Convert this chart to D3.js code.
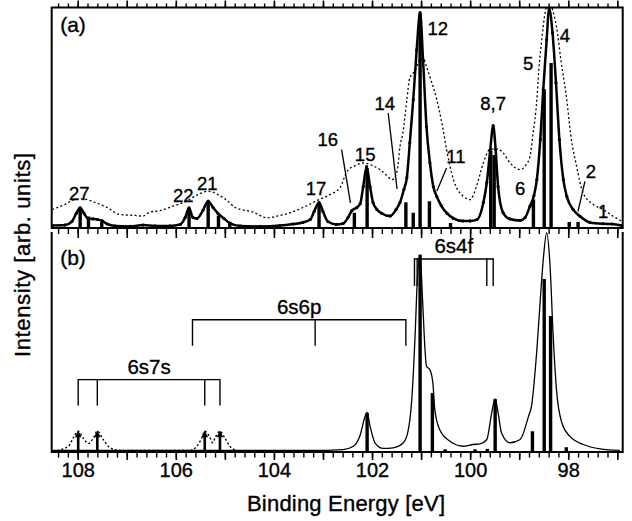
<!DOCTYPE html>
<html><head><meta charset="utf-8">
<script src="https://cdn.jsdelivr.net/npm/d3@7"></script>
<style>
body{margin:0;background:#fff}
svg{display:block}
text{font-family:"Liberation Sans",Arial,Helvetica,sans-serif;fill:#000;stroke:#000;stroke-width:0.35px}
</style>
</head><body>
<svg id="c" width="632" height="521"></svg>
<script>
// ---------------- DATA ----------------
// Panel (a): experimental spectrum (thick line with points), [binding energy eV, intensity]
const aExpE = [108.52,108.26,108.12,108.03,107.95,107.87,107.79,107.69,107.59,107.50,107.40,107.24,106.93,106.67,106.42,106.12,105.91,105.81,105.73,105.65,105.57,105.45,105.34,105.24,105.14,105.02,104.90,104.69,104.28,103.88,103.61,103.41,103.26,103.18,103.08,103.00,102.90,102.73,102.59,102.49,102.41,102.31,102.24,102.18,102.11,102.04,101.98,101.90,101.80,101.63,101.51,101.43,101.35,101.29,101.23,101.16,101.09,101.02,100.96,100.89,100.82,100.75,100.68,100.59,100.47,100.35,100.15,100.00,99.86,99.73,99.66,99.59,99.53,99.48,99.43,99.33,99.19,98.98,98.88,98.78,98.70,98.64,98.57,98.51,98.44,98.39,98.32,98.25,98.18,98.10,98.03,97.90,97.76,97.56,97.29,97.11,96.91];
const aExpI = [0.009,0.011,0.027,0.064,0.090,0.064,0.041,0.039,0.036,0.030,0.016,0.007,0.005,0.011,0.007,0.007,0.014,0.045,0.089,0.045,0.041,0.077,0.120,0.091,0.064,0.041,0.020,0.007,0.005,0.009,0.016,0.023,0.036,0.073,0.114,0.073,0.027,0.014,0.018,0.045,0.077,0.091,0.109,0.186,0.277,0.186,0.114,0.082,0.064,0.052,0.082,0.114,0.173,0.227,0.386,0.582,0.809,0.979,0.764,0.459,0.295,0.186,0.141,0.100,0.064,0.043,0.030,0.030,0.036,0.114,0.205,0.355,0.464,0.355,0.186,0.068,0.039,0.032,0.045,0.097,0.145,0.218,0.400,0.627,0.855,0.998,0.886,0.659,0.400,0.218,0.142,0.082,0.051,0.023,0.017,0.016,0.009];

// Panel (a): lower-resolution spectrum (dotted)
const aLowE = [108.52,108.26,108.06,107.89,107.65,107.40,107.14,106.83,106.67,106.53,106.32,106.06,105.78,105.55,105.34,105.14,104.94,104.79,104.42,104.14,103.88,103.67,103.37,103.12,102.86,102.65,102.51,102.34,102.18,101.99,101.84,101.72,101.59,101.49,101.43,101.37,101.29,101.23,101.16,101.08,100.99,100.89,100.80,100.68,100.57,100.48,100.34,100.14,100.00,99.87,99.73,99.60,99.48,99.33,99.19,98.98,98.86,98.78,98.72,98.64,98.60,98.54,98.48,98.41,98.35,98.29,98.24,98.15,98.03,97.95,97.83,97.70,97.49,97.29,97.11,96.91];
const aLowI = [0.082,0.105,0.127,0.130,0.114,0.091,0.059,0.055,0.052,0.070,0.077,0.097,0.120,0.150,0.165,0.150,0.120,0.091,0.070,0.044,0.055,0.067,0.095,0.123,0.150,0.182,0.256,0.282,0.294,0.282,0.264,0.241,0.218,0.255,0.370,0.432,0.582,0.682,0.703,0.736,0.786,0.733,0.673,0.582,0.468,0.355,0.218,0.142,0.127,0.188,0.295,0.355,0.359,0.341,0.295,0.264,0.286,0.324,0.423,0.582,0.718,0.855,0.968,1.020,1.010,0.968,0.915,0.764,0.582,0.423,0.279,0.159,0.105,0.082,0.055,0.029];

// Panel (a): calculated line strengths (sticks)
const aStickE = [107.95,107.78,107.51,105.73,105.34,105.13,104.90,103.08,102.36,102.10,101.31,101.16,101.02,100.83,100.40,99.58,99.51,98.71,98.49,98.35,97.98,97.80];
const aStickI = [0.090,0.050,0.025,0.090,0.120,0.055,0.025,0.110,0.067,0.270,0.115,0.067,0.975,0.120,0.020,0.350,0.330,0.127,0.630,0.750,0.025,0.025];

// Panel (b): calculated spectrum (thin line)
const bCalcE = [108.52,106.53,104.49,103.27,102.59,102.38,102.25,102.14,102.10,102.04,101.94,101.77,101.57,101.36,101.26,101.19,101.12,101.08,101.02,100.97,100.92,100.89,100.82,100.76,100.72,100.62,100.41,100.14,99.94,99.80,99.66,99.56,99.49,99.43,99.36,99.19,98.98,98.81,98.75,98.64,98.57,98.51,98.44,98.37,98.31,98.24,98.13,97.97,97.69,97.35,96.95];
const bCalcI = [0.005,0.005,0.005,0.005,0.009,0.024,0.070,0.161,0.179,0.116,0.040,0.014,0.017,0.040,0.100,0.237,0.542,0.770,0.900,0.694,0.466,0.390,0.374,0.314,0.192,0.100,0.047,0.024,0.032,0.035,0.055,0.177,0.241,0.177,0.085,0.040,0.055,0.161,0.207,0.466,0.694,0.877,1.000,0.846,0.542,0.283,0.131,0.070,0.032,0.012,0.005];

// Panel (b): 6s7s lines (dotted profile)
const bDotE = [108.50,108.19,108.09,107.99,107.89,107.78,107.68,107.60,107.48,107.34,107.14,105.71,105.57,105.47,105.41,105.30,105.25,105.20,105.10,105.00,104.90,104.76];
const bDotI = [0.001,0.024,0.062,0.093,0.062,0.037,0.062,0.093,0.055,0.017,0.005,0.005,0.024,0.062,0.093,0.062,0.040,0.062,0.093,0.062,0.024,0.005];

// Panel (b): sticks
const bStickE = [102.10,101.02,100.77,100.51,99.90,99.65,99.49,98.73,98.49,98.36,98.04];
const bStickI = [0.177,0.900,0.268,0.010,0.010,0.012,0.240,0.093,0.790,0.620,0.020];

// Panel (b): 6s7s arrows
const bArrowE = [107.99,107.60,105.41,105.10];
const bArrowI = [0.093,0.093,0.093,0.093];

// Configuration brackets (panel b)
const bracketNames = ["6s7s","6s6p","6s4f"];
const bracketTicks = [[107.99,107.60,105.41,105.10],[105.66,103.16,101.31],[101.135,101.08,99.66,99.53]];
const bracketLevel = [0.329,0.603,0.881];
const bracketDrop  = [0.119,0.119,0.123];

// Peak labels (panel a)
const peakLabels = ["27","22","21","17","16","15","14","12","11","8,7","6","5","4","2","1"];
const peakLabelE = [107.97,105.85,105.36,103.14,102.90,102.14,101.74,100.66,100.29,99.53,98.98,98.82,98.07,97.54,97.29];
const peakLabelI = [0.127,0.114,0.173,0.150,0.370,0.301,0.536,0.877,0.295,0.536,0.150,0.718,0.847,0.227,0.045];
// Leader lines for labels 16, 14, 11, 2
const leaderFrom = [[102.62,0.355],[101.67,0.521],[100.48,0.271],[97.66,0.210]];
const leaderTo   = [[102.44,0.112],[101.49,0.176],[100.68,0.165],[97.80,0.074]];

// Axis ticks
const tickLabels = [108,106,104,102,100,98];
const majorTicks = d3.range(97,109);
const minorTicks = d3.range(485,543).map(i=>i/5);

// ---------------- DRAWING ----------------
const svg = d3.select("#c");
const L=51.7, R=622.7, aT=7.5, aB=228, bT=232, bB=452;
const x = d3.scaleLinear().domain([108.53,96.89]).range([L,R]);
const ya = d3.scaleLinear().domain([0,1]).range([aB-0.5,8]);
const yb = d3.scaleLinear().domain([0,1]).range([bB-0.5,233]);

const defs = svg.append("defs");
defs.append("clipPath").attr("id","clipA").append("rect").attr("x",L).attr("y",aT).attr("width",R-L).attr("height",aB-aT);
defs.append("clipPath").attr("id","clipB").append("rect").attr("x",L).attr("y",bT).attr("width",R-L).attr("height",bB-bT);

function pts(E,I){return E.map((e,i)=>[e,I[i]]);}

// ---- Panel (a) ----
const gA = svg.append("g");
const gAc = gA.append("g").attr("clip-path","url(#clipA)");
gAc.selectAll("line.sa").data(pts(aStickE,aStickI)).join("line")
  .attr("x1",d=>x(d[0])).attr("x2",d=>x(d[0]))
  .attr("y1",ya(0)).attr("y2",d=>ya(d[1]))
  .attr("stroke","#000").attr("stroke-width",3.4);
gAc.append("path").datum(pts(aLowE,aLowI))
  .attr("d",d3.line().x(d=>x(d[0])).y(d=>ya(d[1])).curve(d3.curveMonotoneX))
  .attr("fill","none").attr("stroke","#000").attr("stroke-width",1.3).attr("stroke-dasharray","2,2.4");
gAc.append("path").datum(pts(aExpE,aExpI))
  .attr("d",d3.line().x(d=>x(d[0])).y(d=>ya(d[1])).curve(d3.curveMonotoneX))
  .attr("fill","none").attr("stroke","#000").attr("stroke-width",2.5).attr("stroke-linejoin","round");
gAc.selectAll("circle.pa").data(pts(aExpE,aExpI)).join("circle")
  .attr("cx",d=>x(d[0])).attr("cy",d=>ya(d[1])).attr("r",1.6).attr("fill","#000");

gA.append("rect").attr("x",L).attr("y",aT).attr("width",R-L).attr("height",aB-aT)
  .attr("fill","none").attr("stroke","#000").attr("stroke-width",2);

function noDomain(g){g.select(".domain").remove();}
gA.append("g").attr("transform",`translate(0,${aT})`)
  .call(d3.axisTop(x).tickValues(minorTicks).tickSize(4).tickFormat(""))
  .call(noDomain).selectAll("line").attr("stroke-width",1.4);
gA.append("g").attr("transform",`translate(0,${aT})`)
  .call(d3.axisTop(x).tickValues(majorTicks).tickSize(7).tickFormat(""))
  .call(noDomain).selectAll("line").attr("stroke-width",1.6);
gA.append("g").attr("transform",`translate(0,${aB})`)
  .call(d3.axisBottom(x).tickValues(minorTicks).tickSize(6).tickFormat(""))
  .call(noDomain).selectAll("line").attr("stroke-width",1.4);
gA.append("g").attr("transform",`translate(0,${aB})`)
  .call(d3.axisBottom(x).tickValues(majorTicks).tickSize(10).tickFormat(""))
  .call(noDomain).selectAll("line").attr("stroke-width",1.6);

gA.selectAll("text.pl").data(peakLabels).join("text")
  .attr("x",(d,i)=>x(peakLabelE[i])).attr("y",(d,i)=>ya(peakLabelI[i]))
  .attr("text-anchor","middle").attr("font-size",18.5).text(d=>d);
gA.selectAll("line.ld").data(leaderFrom).join("line")
  .attr("x1",d=>x(d[0])).attr("y1",d=>ya(d[1]))
  .attr("x2",(d,i)=>x(leaderTo[i][0])).attr("y2",(d,i)=>ya(leaderTo[i][1]))
  .attr("stroke","#000").attr("stroke-width",1.3);
gA.append("text").attr("x",L+8.5).attr("y",32).attr("font-size",21).text("(a)");

// ---- Panel (b) ----
const gB = svg.append("g");
const gBc = gB.append("g").attr("clip-path","url(#clipB)");
gBc.selectAll("line.sb").data(pts(bStickE,bStickI)).join("line")
  .attr("x1",d=>x(d[0])).attr("x2",d=>x(d[0]))
  .attr("y1",yb(0)).attr("y2",d=>yb(d[1]))
  .attr("stroke","#000").attr("stroke-width",3.4);
gBc.append("path").datum(pts(bDotE,bDotI))
  .attr("d",d3.line().x(d=>x(d[0])).y(d=>yb(d[1])).curve(d3.curveMonotoneX))
  .attr("fill","none").attr("stroke","#000").attr("stroke-width",1.4).attr("stroke-dasharray","2,2.2");
gBc.append("path").datum(pts(bCalcE,bCalcI))
  .attr("d",d3.line().x(d=>x(d[0])).y(d=>yb(d[1])).curve(d3.curveMonotoneX))
  .attr("fill","none").attr("stroke","#000").attr("stroke-width",1.3);
const arr = gBc.selectAll("g.ar").data(pts(bArrowE,bArrowI)).join("g");
arr.append("line").attr("x1",d=>x(d[0])).attr("x2",d=>x(d[0]))
  .attr("y1",yb(0)).attr("y2",d=>yb(d[1])+4)
  .attr("stroke","#000").attr("stroke-width",2.6);
arr.append("path").attr("d",d=>{const cx=x(d[0]),cy=yb(d[1]);return `M${cx},${cy-1}L${cx-3.3},${cy+6}L${cx+3.3},${cy+6}Z`;})
  .attr("fill","#000");

bracketNames.forEach((name,k)=>{
  const ticks = bracketTicks[k];
  const lvl = yb(bracketLevel[k]), bot = yb(bracketLevel[k]-bracketDrop[k]);
  const x0 = x(d3.max(ticks)), x1 = x(d3.min(ticks));
  gB.append("line").attr("x1",x0).attr("x2",x1).attr("y1",lvl).attr("y2",lvl)
    .attr("stroke","#000").attr("stroke-width",1.4);
  gB.selectAll(null).data(ticks).join("line")
    .attr("x1",d=>x(d)).attr("x2",d=>x(d)).attr("y1",lvl-0.7).attr("y2",bot)
    .attr("stroke","#000").attr("stroke-width",1.4);
  gB.append("text").attr("x",(x0+x1)/2).attr("y",lvl-6)
    .attr("text-anchor","middle").attr("font-size",20.5).text(name);
});

gB.append("path").attr("d",`M${L},${bT}V${bB}H${R}V${bT}`)
  .attr("fill","none").attr("stroke","#000").attr("stroke-width",2);
gB.append("g").attr("transform",`translate(0,${bB})`)
  .call(d3.axisBottom(x).tickValues(minorTicks).tickSize(5.5).tickFormat(""))
  .call(noDomain).selectAll("line").attr("stroke-width",1.4);
const axB = gB.append("g").attr("transform",`translate(0,${bB})`)
  .call(d3.axisBottom(x).tickValues(majorTicks).tickSize(8).tickPadding(3)
    .tickFormat(d=>tickLabels.includes(d)?d:""))
  .call(noDomain);
axB.selectAll("line").attr("stroke-width",1.6);
axB.selectAll("text").attr("font-size",20).attr("font-family","Liberation Sans, Arial, sans-serif").attr("fill","#000");
gB.append("text").attr("x",L+8.5).attr("y",265).attr("font-size",21).text("(b)");

// axis titles
svg.append("text").attr("x",346).attr("y",511).attr("text-anchor","middle")
  .attr("font-size",22).attr("textLength",198).attr("lengthAdjust","spacing").text("Binding Energy [eV]");
svg.append("text").attr("transform","translate(30,255) rotate(-90)").attr("text-anchor","middle")
  .attr("font-size",22).attr("textLength",204).attr("lengthAdjust","spacing").text("Intensity [arb. units]");
</script>
</body></html>
